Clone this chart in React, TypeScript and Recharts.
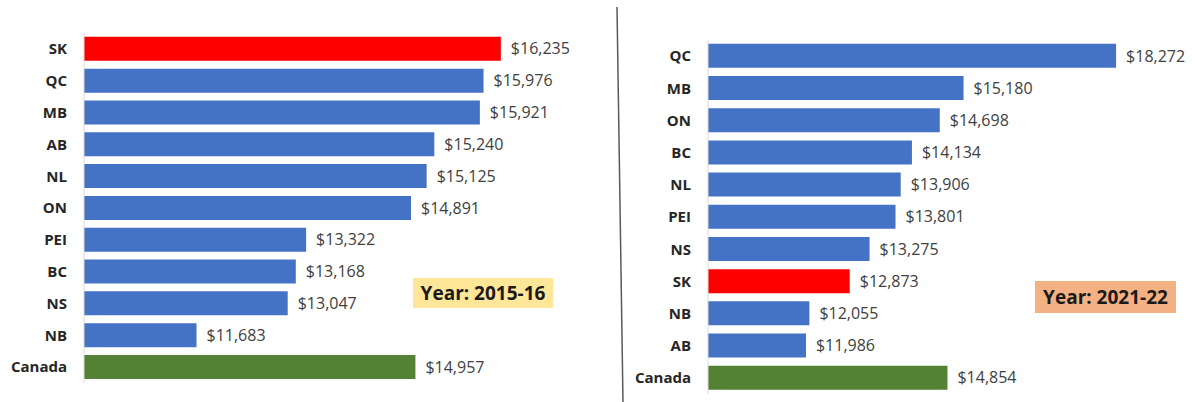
import { Bar, BarChart, Cell, LabelList, XAxis, YAxis } from "recharts";

const leftProvinces = ["SK", "QC", "MB", "AB", "NL", "ON", "PEI", "BC", "NS", "NB", "Canada"];
const leftCosts = [16235, 15976, 15921, 15240, 15125, 14891, 13322, 13168, 13047, 11683, 14957];

const rightProvinces = ["QC", "MB", "ON", "BC", "NL", "PEI", "NS", "SK", "NB", "AB", "Canada"];
const rightCosts = [18272, 15180, 14698, 14134, 13906, 13801, 13275, 12873, 12055, 11986, 14854];

const highlight = "SK";
const total = "Canada";

const BLUE = "#4472C4";
const RED = "#FF0000";
const GREEN = "#548235";
const FONT = "'Open Sans', Lato, sans-serif";

const money = (v: any) => "$" + Number(v).toLocaleString("en-US");

const barColor = (name: string) =>
  name === highlight ? RED : name === total ? GREEN : BLUE;

function Panel({
  provinces,
  costs,
  width,
  height,
  top,
  bottom,
  max,
  plotWidth,
}: {
  provinces: string[];
  costs: number[];
  width: number;
  height: number;
  top: number;
  bottom: number;
  max: number;
  plotWidth: number;
}) {
  const data = provinces.map((p, i) => ({ name: p, cost: costs[i] }));
  return (
    <BarChart
      width={width}
      height={height}
      data={data}
      layout="vertical"
      barCategoryGap="12%"
      margin={{ top, right: width - 84 - plotWidth, left: 0, bottom }}
    >
      <XAxis type="number" domain={[10000, max]} hide />
      <YAxis
        type="category"
        dataKey="name"
        width={84}
        tickLine={false}
        tickMargin={11}
        axisLine={{ stroke: "#d9d9d9" }}
        tick={{ fill: "#262626", fontSize: 15, fontWeight: 700, fontFamily: FONT }}
      />
      <Bar dataKey="cost" isAnimationActive={false}>
        {data.map((d) => (
          <Cell key={d.name} fill={barColor(d.name)} />
        ))}
        <LabelList
          dataKey="cost"
          position="right"
          offset={10}
          formatter={money}
          style={{ fill: "#404040", fontSize: 16, fontFamily: FONT }}
        />
      </Bar>
    </BarChart>
  );
}

export default function App() {
  return (
    <div
      style={{
        position: "absolute",
        left: 0,
        top: 0,
        width: 1198,
        height: 402,
        background: "#fff",
        fontFamily: FONT,
      }}
    >
      <div style={{ position: "absolute", left: 0, top: 0 }}>
        <Panel
          provinces={leftProvinces}
          costs={leftCosts}
          width={615}
          height={402}
          top={33}
          bottom={19}
          max={17000}
          plotWidth={468}
        />
      </div>
      <div style={{ position: "absolute", left: 624, top: 0 }}>
        <Panel
          provinces={rightProvinces}
          costs={rightCosts}
          width={574}
          height={402}
          top={40}
          bottom={8}
          max={19000}
          plotWidth={444}
        />
      </div>
      <svg
        width={1198}
        height={402}
        style={{ position: "absolute", left: 0, top: 0, pointerEvents: "none" }}
      >
        <line x1={617} y1={7} x2={623} y2={402} stroke="#595959" strokeWidth={1.5} />
      </svg>
      <div
        style={{
          position: "absolute",
          left: 413,
          top: 278,
          width: 140,
          height: 30,
          background: "#FFE699",
          color: "#1a1a1a",
          fontWeight: 700,
          fontSize: 19,
          lineHeight: "30px",
          textAlign: "center",
          whiteSpace: "nowrap",
        }}
      >
        Year: 2015-16
      </div>
      <div
        style={{
          position: "absolute",
          left: 1035,
          top: 281,
          width: 141,
          height: 32,
          background: "#F4B183",
          color: "#1a1a1a",
          fontWeight: 700,
          fontSize: 19,
          lineHeight: "32px",
          textAlign: "center",
          whiteSpace: "nowrap",
        }}
      >
        Year: 2021-22
      </div>
    </div>
  );
}
